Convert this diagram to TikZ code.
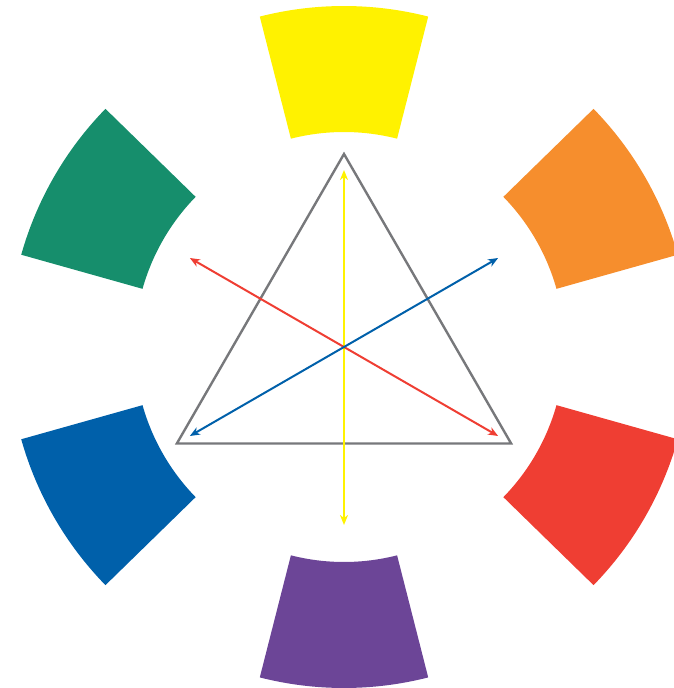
\documentclass[tikz,border=0pt]{standalone}
\usepackage{tikz}
\usetikzlibrary{arrows.meta,calc}
\definecolor{cwYellow}{HTML}{FFF200}
\definecolor{cwOrange}{HTML}{F68E2D}
\definecolor{cwRed}{HTML}{EF3E33}
\definecolor{cwPurple}{HTML}{6C4597}
\definecolor{cwBlue}{HTML}{0060AA}
\definecolor{cwGreen}{HTML}{168E6C}
\definecolor{cwGray}{HTML}{77787B}
\tikzset{dbl/.style={{Stealth[length=10pt,width=8pt,inset=3pt]}-{Stealth[length=10pt,width=8pt,inset=3pt]}, line width=2pt},
  tri/.style={draw=cwGray, line width=2.4pt, line join=miter}}

\begin{document}
\begin{tikzpicture}[x=1pt, y=1pt]
  \useasboundingbox (-344,-341) rectangle (329,347);
  % colour wheel sectors
  \foreach \a/\c/\s in {90/cwYellow/0, 30/cwOrange/5.5, -30/cwRed/5.5, -90/cwPurple/0, -150/cwBlue/5.5, 150/cwGreen/5.5}
    \fill[\c, xshift=\s] (\a-14.3:341) arc[start angle=\a-14.3, end angle=\a+14.3, radius=341]
      -- (\a+14.3:215) arc[start angle=\a+14.3, end angle=\a-14.3, radius=215] -- cycle;
  % triangle
  \coordinate (top) at (90:193);
  \coordinate (bl)  at (210:193);
  \coordinate (br)  at (330:193);
  \draw[tri] (top) -- (bl) -- (br) -- cycle;
  % complementary pairs
  \coordinate (y1) at (90:177);
  \coordinate (y2) at (270:178);
  \coordinate (r1) at (150:178);
  \coordinate (r2) at (330:178);
  \coordinate (b1) at (210:178);
  \coordinate (b2) at (30:178);
  \draw[dbl, cwYellow] (y1) -- (y2);
  \draw[dbl, cwRed] (r1) -- (r2);
  \draw[dbl, cwBlue] (b1) -- (b2);
\end{tikzpicture}
\end{document}
